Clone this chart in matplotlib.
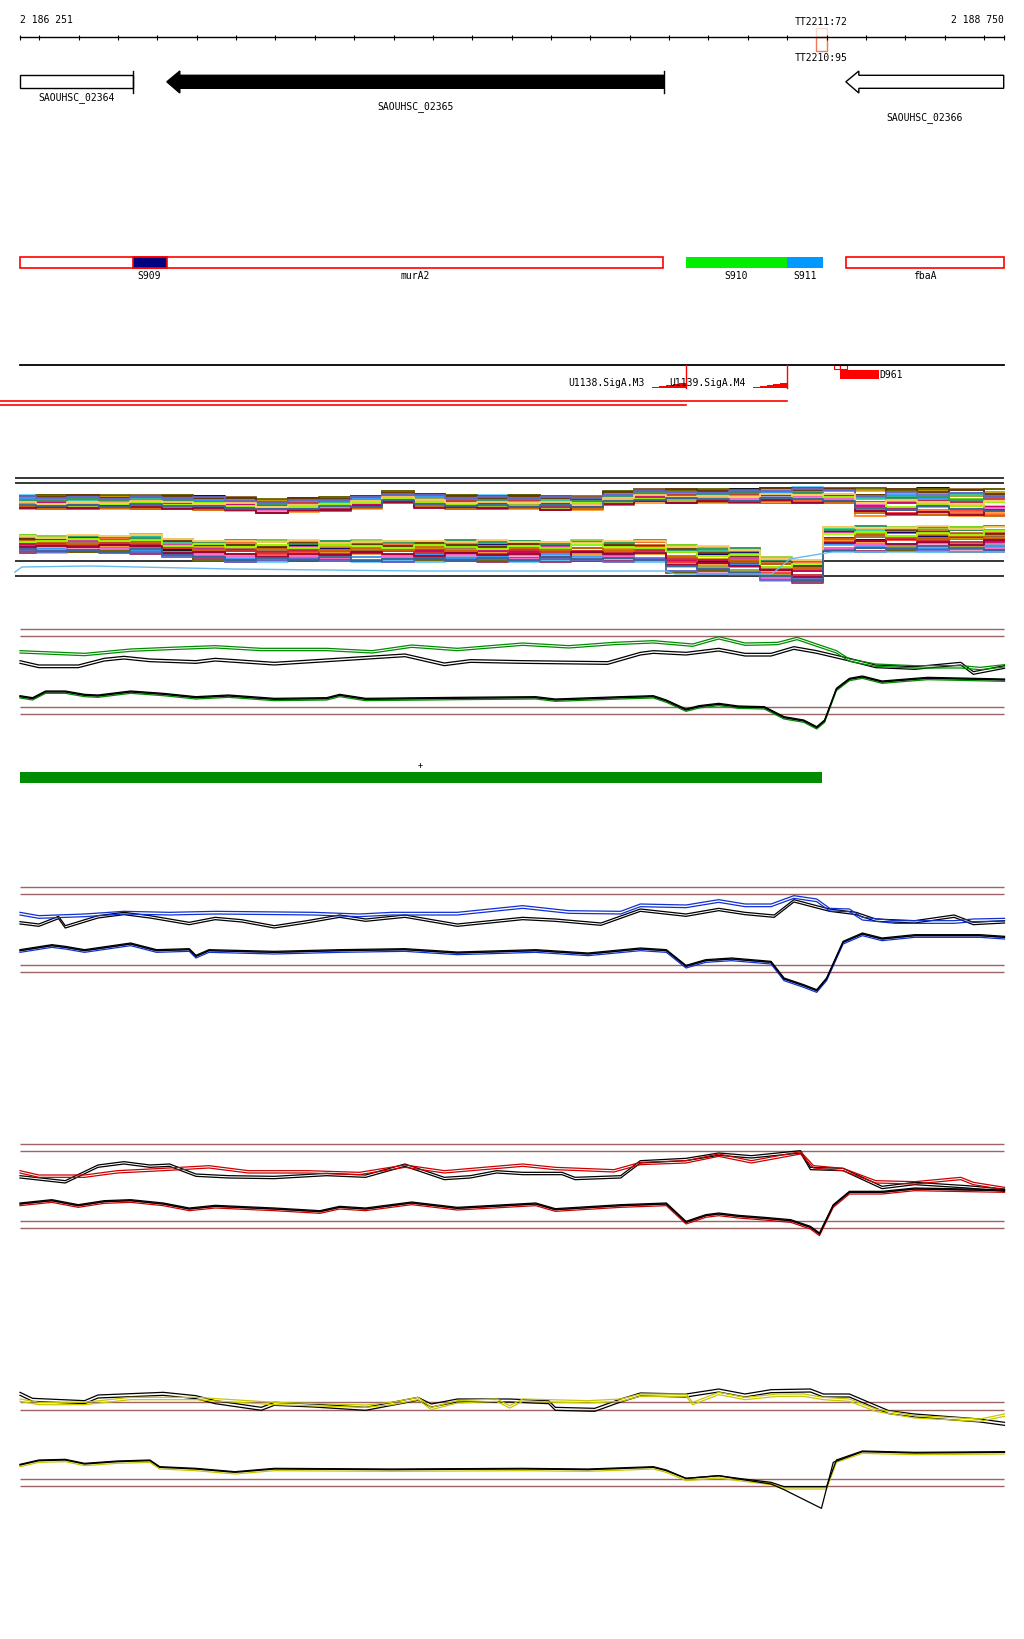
import numpy as np
import matplotlib
matplotlib.use("Agg")
import matplotlib.pyplot as plt
from matplotlib.patches import Polygon, Rectangle

START, END = 2186251, 2188750

# --- genes (top track)
gene_names = ["SAOUHSC_02364", "SAOUHSC_02365", "SAOUHSC_02366"]
gene_start = [2186251, 2186624, 2188349]
gene_end = [2186537, 2187886, 2188750]
gene_strand = [".", "-", "-"]
gene_fill = ["white", "black", "white"]
gene_endbar = [True, True, False]

# --- annotated transcripts / segments
feat_names = ["murA2", "S909", "S910", "S911", "fbaA"]
feat_start = [2186251, 2186537, 2187943, 2188200, 2188349]
feat_end = [2187885, 2186624, 2188200, 2188292, 2188750]
feat_label_x = [2187254, 2186580, 2188071, 2188246, 2188549]
feat_face = ["white", "#000080", "#00ee00", "#0099ff", "white"]
feat_edge = ["red", "red", "none", "none", "red"]

# --- promoters / terminators
prom_names = ["U1138.SigA.M3", "U1139.SigA.M4"]
prom_start = [2187840, 2188097]
prom_end = [2187943, 2188199]
term_name = "D961"
term_start, term_end = 2188333, 2188433
term_marks = [2188319, 2188335, 2188351]
tt_names = ["TT2211:72", "TT2210:95"]
tt_start, tt_end = 2188274, 2188300
green_bar = (2186251, 2188288)
plus_pos = 2187267

# --- tiling-array bundle (many conditions)
bundle_pos = [0, 80, 160, 240, 320, 400, 480, 560, 640, 720, 800, 880, 960, 1040, 1120, 1200,
              1280, 1360, 1440, 1520, 1600, 1680, 1760, 1840, 1920, 2000, 2080, 2160, 2240,
              2320, 2400, 2500]
upper_y = [503, 503, 503, 503, 503, 503, 504, 505, 507, 506, 505, 503, 498, 502, 503, 503,
           503, 504, 504, 499, 497, 497, 497, 497, 496, 496, 496, 503, 503, 503, 503, 503]
upper_spread = [7, 7, 7, 7, 7, 7, 7, 7, 7, 7, 7, 7, 6, 7, 7, 7,
                7, 7, 7, 7, 7, 7, 7, 7, 8, 8, 8, 14, 14, 14, 14, 14]
lower_y = [545, 545, 545, 545, 545, 549, 551, 552, 552, 552, 552, 552, 552, 552, 552, 552,
           552, 552, 552, 552, 552, 560, 561, 562, 570, 572, 540, 540, 540, 540, 540, 540]
lower_spread = [9, 9, 9, 9, 10, 10, 11, 11, 11, 11, 11, 11, 11, 11, 11, 11,
                11, 11, 11, 11, 11, 14, 14, 14, 12, 12, 13, 13, 13, 13, 13, 13]
bundle_shift = [0, 2, 5, 1, 3, 6, 2, 4, 0, 3, 5, 1, 4, 2, 6, 0,
                3, 1, 5, 2, 4, 0, 6, 3, 1, 4, 2, 5, 0, 3, 1, 4]
bundle_levels = [-1.0, -0.93, -0.86, -0.8, -0.72, -0.66, -0.58, -0.52, -0.45, -0.38,
                 -0.31, -0.24, -0.17, -0.1, -0.03, 0.03, 0.1, 0.17, 0.24, 0.31,
                 0.38, 0.45, 0.52, 0.6, 0.66, 0.72, 0.8, 0.86, 0.93, 1.0]
bundle_rank = [0, 16, 7, 23, 3, 12, 27, 9, 19, 1, 25, 14, 5, 21, 10,
               29, 2, 17, 8, 24, 13, 4, 20, 11, 28, 6, 18, 26, 15, 22]
bundle_colors = ["#000000", "#cc6633", "#999933", "#cc3399", "#66ccff", "#66cc00",
                 "#ff3333", "#000066", "#ff99cc", "#996633", "#ff6633", "#9999cc",
                 "#cc9900", "#993366", "#33cc99", "#ff9933", "#666600", "#cc0066",
                 "#3399ff", "#99cc33", "#cc3333", "#663300", "#ff66cc", "#339966",
                 "#cc6600", "#6666cc", "#99ff00", "#990033", "#ffcc66", "#336699"]
bundle_black_y = [479, 484, 562, 577]
lightblue_pos = [-13, 5, 178, 541, 1016, 1639, 1664, 1910, 1956, 2063, 2500]
lightblue_y = [573, 568, 567, 570, 572, 572, 575, 575, 560, 553, 553]

# --- strand-specific signal panels (values in panel units)
green_up_pos = [0, 164, 281, 380, 496, 613, 779, 895, 995, 1111, 1277, 1394, 1509, 1609, 1709, 1775, 1842, 1925, 1974, 2024, 2074, 2107, 2174, 2273, 2390, 2439, 2501]
green_up = [95, 103, 90, 85, 80, 88, 88, 95, 78, 88, 72, 80, 70, 65, 75, 53, 72, 70, 55, 75, 95, 120, 135, 140, 140, 145, 137]
green_blk_pos = [0, 48, 148, 214, 264, 330, 447, 496, 646, 779, 978, 1078, 1144, 1277, 1493, 1576, 1609, 1692, 1775, 1842, 1908, 1966, 2024, 2107, 2174, 2273, 2390, 2422, 2501]
green_blk = [125, 138, 138, 118, 112, 120, 125, 118, 130, 120, 105, 132, 122, 125, 128, 100, 95, 100, 88, 103, 103, 83, 95, 118, 138, 143, 130, 158, 140]
green_dn_pos = [0, 32, 65, 115, 164, 198, 281, 364, 447, 530, 646, 779, 812, 878, 1111, 1310, 1360, 1526, 1609, 1642, 1692, 1725, 1775, 1825, 1891, 1941, 1991, 2024, 2044, 2074, 2107, 2140, 2190, 2273, 2306, 2501]
green_dn = [232, 238, 218, 218, 228, 230, 218, 225, 235, 230, 240, 238, 228, 240, 237, 235, 242, 235, 232, 245, 272, 262, 255, 263, 265, 295, 305, 325, 305, 210, 180, 173, 188, 180, 177, 182]

blue_up_pos = [0, 48, 164, 264, 380, 496, 746, 862, 945, 1111, 1277, 1394, 1526, 1576, 1692, 1775, 1842, 1908, 1966, 2024, 2057, 2107, 2140, 2224, 2373, 2422, 2501]
blue_up = [100, 110, 105, 97, 100, 97, 100, 105, 100, 100, 80, 95, 97, 75, 78, 62, 75, 75, 50, 60, 88, 90, 115, 125, 125, 120, 118]
blue_blk_pos = [0, 48, 98, 115, 198, 264, 330, 430, 496, 563, 646, 729, 812, 878, 978, 1111, 1277, 1360, 1476, 1576, 1692, 1775, 1842, 1916, 1966, 2024, 2057, 2124, 2174, 2273, 2373, 2422, 2501]
blue_blk = [128, 135, 112, 140, 110, 100, 110, 130, 115, 122, 140, 125, 108, 120, 108, 135, 115, 120, 132, 90, 105, 88, 100, 108, 62, 80, 90, 100, 120, 125, 108, 130, 125]
blue_dn_pos = [0, 81, 115, 164, 281, 347, 430, 447, 480, 646, 812, 978, 1111, 1310, 1443, 1576, 1642, 1692, 1742, 1808, 1908, 1941, 1991, 2024, 2049, 2091, 2140, 2190, 2273, 2439, 2501]
blue_dn = [215, 200, 205, 215, 195, 215, 212, 232, 215, 220, 215, 212, 222, 215, 225, 210, 215, 262, 245, 240, 250, 300, 320, 335, 300, 190, 165, 180, 170, 170, 175]

red_up_pos = [0, 48, 164, 247, 364, 480, 580, 729, 862, 978, 1078, 1277, 1360, 1509, 1576, 1692, 1775, 1858, 1983, 2016, 2091, 2174, 2273, 2390, 2422, 2501]
red_up = [125, 138, 138, 125, 118, 110, 125, 125, 130, 108, 125, 105, 115, 122, 100, 95, 75, 95, 68, 110, 118, 155, 158, 145, 160, 175]
red_blk_pos = [0, 115, 198, 264, 330, 380, 447, 530, 646, 779, 878, 978, 1078, 1144, 1211, 1277, 1377, 1410, 1526, 1576, 1692, 1775, 1858, 1983, 2008, 2091, 2190, 2273, 2406, 2501]
red_blk = [140, 155, 108, 98, 108, 105, 135, 140, 142, 133, 138, 105, 145, 140, 125, 130, 130, 145, 140, 95, 88, 72, 80, 65, 115, 118, 172, 160, 170, 180]
red_dn_pos = [0, 81, 148, 214, 281, 364, 430, 496, 646, 762, 812, 878, 995, 1111, 1310, 1360, 1526, 1642, 1692, 1742, 1775, 1825, 1891, 1958, 2008, 2031, 2066, 2107, 2190, 2273, 2501]
red_dn = [225, 215, 230, 218, 215, 225, 240, 232, 240, 248, 235, 240, 222, 238, 225, 242, 230, 225, 280, 260, 255, 262, 268, 275, 295, 315, 230, 190, 190, 180, 185]

yel_up_pos = [0, 48, 164, 281, 447, 646, 878, 945, 1011, 1045, 1111, 1211, 1244, 1277, 1443, 1526, 1576, 1692, 1709, 1775, 1842, 1925, 1991, 2041, 2107, 2174, 2273, 2439, 2501]
yel_up = [60, 70, 70, 55, 55, 70, 78, 70, 55, 85, 65, 60, 80, 60, 65, 60, 45, 45, 70, 40, 55, 45, 45, 55, 60, 90, 110, 120, 105]
yel_blk_pos = [0, 32, 164, 198, 364, 447, 496, 613, 646, 746, 878, 945, 1011, 1045, 1111, 1244, 1343, 1360, 1460, 1526, 1576, 1692, 1775, 1842, 1908, 2008, 2041, 2107, 2207, 2273, 2439, 2501]
yel_blk = [40, 58, 65, 48, 40, 50, 65, 85, 70, 75, 85, 70, 55, 75, 60, 60, 65, 85, 88, 60, 42, 45, 30, 45, 32, 30, 45, 45, 95, 105, 120, 130]
yel_dn_pos = [0, 48, 115, 164, 247, 330, 355, 447, 546, 646, 945, 1277, 1443, 1609, 1642, 1692, 1775, 1825, 1908, 1941, 2049, 2074, 2140, 2273, 2501]
yel_dn = [258, 245, 243, 255, 248, 245, 265, 270, 280, 270, 272, 270, 272, 265, 275, 300, 292, 300, 312, 325, 325, 245, 218, 222, 220]
yel_blk_dn_pos = [0, 48, 115, 164, 247, 330, 355, 447, 546, 646, 945, 1277, 1443, 1609, 1642, 1692, 1775, 1825, 1908, 1941, 2036, 2066, 2140, 2273, 2501]
yel_blk_dn = [258, 245, 243, 255, 248, 245, 265, 270, 280, 270, 272, 270, 272, 265, 275, 298, 290, 300, 315, 332, 388, 250, 218, 222, 220]

W, H = 1024, 1640
BP_PX = (END - START) / 983.7
XL = (START - 20 * BP_PX, START + 1004 * BP_PX)
FONT = dict(fontsize=7, family="DejaVu Sans Mono")
BROWN = "#9c6464"

fig = plt.figure(figsize=(W / 100, H / 100), dpi=100)
ax = fig.add_axes([0, 0, 1, 1])
ax.set_xlim(*XL)
ax.set_ylim(H, 0)
ax.set_axis_off()

# ruler
ax.plot([START, END], [38.3, 38.3], color="black", lw=1)
ticks = [START] + list(range(2186300, 2188701, 100)) + [END]
ax.vlines(ticks, 36.3, 40.5, color="black", lw=0.8)
ax.text(START, 20, "2 186 251", ha="left", va="center", **FONT)
ax.text(END, 20, "2 188 750", ha="right", va="center", **FONT)
ax.add_patch(Rectangle((tt_start, 29.3), tt_end - tt_start, 9, fc="none", ec="#f8d8cc", lw=1))
ax.add_patch(Rectangle((tt_start, 38.3), tt_end - tt_start, 13.4, fc="none", ec="#f07858", lw=1))
ax.text((tt_start + tt_end) / 2, 22.3, tt_names[0], ha="center", va="center", **FONT)
ax.text((tt_start + tt_end) / 2, 58.3, tt_names[1], ha="center", va="center", **FONT)

# genes
head = 33
label_y = [97.7, 106.7, 117.7]
for name, s, e, st, fc, bar, ly in zip(gene_names, gene_start, gene_end, gene_strand,
                                       gene_fill, gene_endbar, label_y):
    if st == "-":
        pts = [(s, 82.8), (s + head, 72), (s + head, 76.3), (e, 76.3), (e, 89.3),
               (s + head, 89.3), (s + head, 94)]
    else:
        pts = [(s, 76.3), (e, 76.3), (e, 89.3), (s, 89.3)]
    ax.add_patch(Polygon(pts, closed=True, fc=fc, ec="black", lw=1))
    if bar:
        ax.plot([e, e], [72, 94], color="black", lw=1)
    ax.text((s + e) / 2, ly, name, ha="center", va="center", **FONT)

# transcripts
for name, s, e, lx, fc, ec in zip(feat_names, feat_start, feat_end, feat_label_x, feat_face, feat_edge):
    ax.add_patch(Rectangle((s, 258.3), e - s, 10.4, fc=fc, ec=ec, lw=1.2))
    ax.text(lx, 275.7, name, ha="center", va="center", **FONT)

# promoters / terminator
ax.plot([START, END], [366.3, 366.3], color="black", lw=1.3)
for name, s, e in zip(prom_names, prom_start, prom_end):
    xs = np.linspace(s, e, 7)
    tops = np.linspace(388.5, 382.5, 7)
    ax.fill_between(xs, tops, 389.3, step="post", color="red", lw=0)
    ax.plot([e, e], [366.3, 389.3], color="red", lw=1)
    ax.text(s - 3, 383, name, ha="right", va="center", **FONT)
for a, b in zip(term_marks[:-1], term_marks[1:]):
    ax.add_patch(Rectangle((a, 366.3), b - a, 4, fc="white", ec="red", lw=0.8))
ax.add_patch(Rectangle((term_start, 370.7), term_end - term_start, 9, fc="red", ec="none"))
ax.text(term_end, 375.5, term_name, ha="left", va="center", **FONT)
ax.plot([XL[0], prom_end[1]], [401.5, 401.5], color="red", lw=1.2)
ax.plot([XL[0], prom_end[0]], [405.8, 405.8], color="red", lw=1.2)

# bundle of tiling-array conditions
ax.hlines(bundle_black_y, START - 13, END, color="black", lw=1.1)
bx = START + np.array(bundle_pos)
n = len(bundle_levels)
m = len(bundle_shift)
for band_y, band_sp, flip in [(upper_y, upper_spread, 0), (lower_y, lower_spread, 11)]:
    for i, col in enumerate(bundle_colors):
        r0 = bundle_rank[(i + flip) % n]
        idx = []
        for j in range(m):
            k = r0 + bundle_shift[(j + 7 * i) % m] - 3
            k = abs(k) if k < 0 else (2 * n - 1 - k if k >= n else k)
            idx.append(k)
        lv = np.array([bundle_levels[k] for k in idx])
        y = np.array(band_y) + lv * np.array(band_sp)
        ax.plot(bx, y, color=col, lw=1.3, drawstyle="steps-mid")
ax.plot(START + np.array(lightblue_pos), lightblue_y, color="#66bbee", lw=1)

# green bar
ax.add_patch(Rectangle((green_bar[0], 773), green_bar[1] - green_bar[0], 10.5, fc="#008c00", ec="none"))
ax.text(plus_pos, 766, "+", ha="center", va="center", fontsize=6, family="DejaVu Sans Mono")


def panel(top, h, hlines, series):
    pax = fig.add_axes([0, 1 - (top + h) / H, 1, h / H])
    pax.set_xlim(*XL)
    pax.set_ylim(h * 3, 0)
    pax.set_axis_off()
    pax.patch.set_alpha(0)
    pax.hlines(hlines, START, END, color=BROWN, lw=1.0)
    for pos, vals, color, shift, gap in series:
        x = START + np.array(pos)
        y = np.array(vals) + shift
        pax.plot(x, y, color=color, lw=0.9)
        if gap:
            pax.plot(x, y + gap, color=color, lw=0.9)


GREEN, BLUE, RED, YEL = "#008c00", "#1030d0", "#cc0000", "#c8c800"
panel(620, 170, [31, 51, 265, 286], [
    (green_blk_pos, green_blk, "black", 0, 8),
    (green_up_pos, green_up, GREEN, 0, 7),
    (green_dn_pos, green_dn, GREEN, 0, 5),
    (green_dn_pos, green_dn, "black", -2, 3),
])
panel(880, 120, [25, 46, 257, 278], [
    (blue_blk_pos, blue_blk, "black", 0, 7),
    (blue_up_pos, blue_up, BLUE, 0, 8),
    (blue_dn_pos, blue_dn, BLUE, 0, 5),
    (blue_dn_pos, blue_dn, "black", -3, 3),
])
panel(1130, 120, [46, 67, 277, 298], [
    (red_blk_pos, red_blk, "black", 0, 7),
    (red_up_pos, red_up, RED, 0, 7),
    (red_dn_pos, red_dn, RED, 0, 5),
    (red_dn_pos, red_dn, "black", -3, 3),
])
panel(1380, 140, [70, 92, 300, 322], [
    (yel_blk_pos, yel_blk, "black", 0, 9),
    (yel_up_pos, yel_up, YEL, 0, 7),
    (yel_dn_pos, yel_dn, YEL, 0, 5),
    (yel_dn_pos, yel_dn, "black", -2, 0),
    (yel_blk_dn_pos, yel_blk_dn, "black", 0, 0),
])

fig.savefig("out.png", dpi=100, facecolor="white")
